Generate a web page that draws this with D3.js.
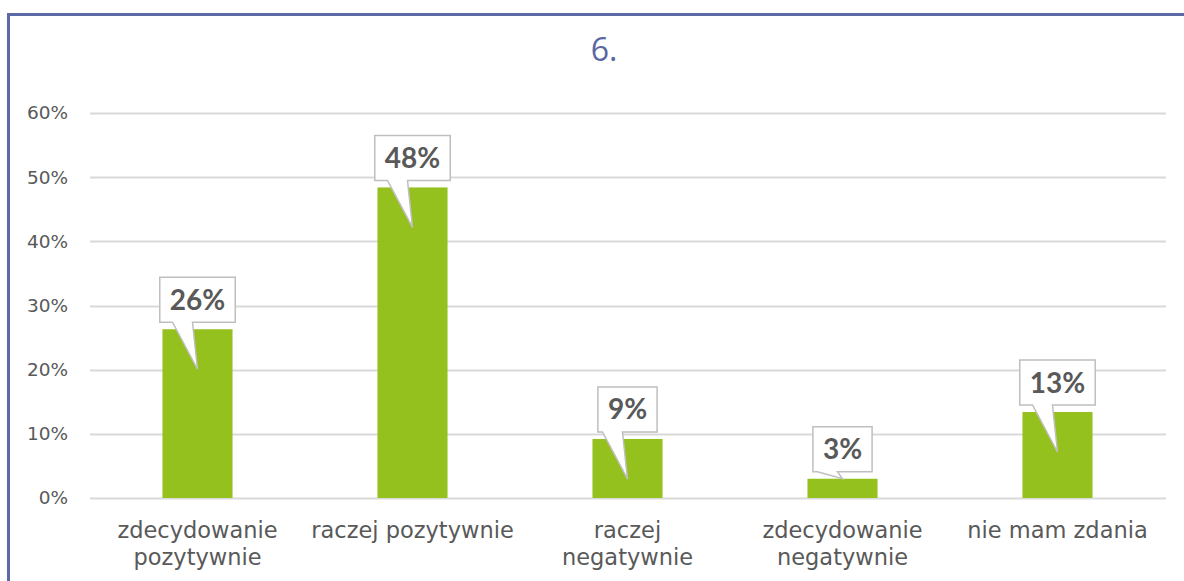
<!DOCTYPE html>
<html>
<head>
<meta charset="utf-8">
<script src="https://cdn.jsdelivr.net/npm/d3@7"></script>
<style>
  body { margin: 0; background: #fff; }
  svg { display: block; }
  text { font-family: "Century Gothic", "DejaVu Sans", sans-serif; }
</style>
</head>
<body>
<div id="chart"></div>
<script>
const width = 1184;
const height = 581;

// data
const categories = [
    "zdecydowanie\npozytywnie",
    "raczej pozytywnie",
    "raczej\nnegatywnie",
    "zdecydowanie\nnegatywnie",
    "nie mam zdania"
];
const values = [0.263, 0.484, 0.092, 0.030, 0.134];
const yTicks = [0, 0.1, 0.2, 0.3, 0.4, 0.5, 0.6];
const title = "6.";

const svg = d3.select("#chart").append("svg")
    .attr("width", width)
    .attr("height", height);

// frame (top + left edge)
svg.append("path")
    .attr("d", "M8.5,581 V14.5 H1184")
    .attr("fill", "none")
    .attr("stroke", "#5d68a6")
    .attr("stroke-width", 3);

svg.append("text")
    .attr("x", 604)
    .attr("y", 61)
    .attr("text-anchor", "middle")
    .attr("fill", "#5a67a3")
    .style("font-family", "'Open Sans', sans-serif")
    .style("font-size", "32px")
    .text(title);

const x = d3.scaleBand()
    .domain(categories)
    .range([90, 1165])
    .paddingInner(0.674)
    .paddingOuter(0.337);

const y = d3.scaleLinear()
    .domain([0, 0.6])
    .range([498, 113]);

// gridlines
svg.append("g")
    .selectAll("line")
    .data(yTicks)
    .join("line")
    .attr("x1", 90)
    .attr("x2", 1166)
    .attr("y1", d => Math.round(y(d)) + 0.5)
    .attr("y2", d => Math.round(y(d)) + 0.5)
    .attr("stroke", "#d9d9d9")
    .attr("stroke-width", 2);

// y axis labels
const yAxis = svg.append("g")
    .attr("transform", "translate(76,0)")
    .call(d3.axisLeft(y).tickValues(yTicks).tickFormat(d3.format(".0%")).tickSize(0).tickPadding(8));
yAxis.select(".domain").remove();
yAxis.selectAll("text")
    .attr("fill", "#595959")
    .style("font-family", "'DejaVu Sans', sans-serif")
    .style("font-size", "18.5px");

// bars
svg.append("g")
    .selectAll("rect")
    .data(values)
    .join("rect")
    .attr("x", (d, i) => x(categories[i]))
    .attr("y", d => y(d))
    .attr("width", x.bandwidth())
    .attr("height", d => y(0) - y(d))
    .attr("fill", "#95c11f");

// category labels
const catG = svg.append("g");
categories.forEach(c => {
    const t = catG.append("text")
        .attr("x", x(c) + x.bandwidth() / 2)
        .attr("y", 538)
        .attr("text-anchor", "middle")
        .attr("fill", "#595959")
        .style("font-size", "22.5px");
    c.split("\n").forEach((line, j) => {
        t.append("tspan")
            .attr("x", x(c) + x.bandwidth() / 2)
            .attr("dy", j === 0 ? 0 : 27)
            .text(line);
    });
});

// callouts
const fmt = d3.format(".0%");
const callG = svg.append("g");
values.forEach((v, i) => {
    const cx = x(categories[i]) + x.bandwidth() / 2;
    const top = y(v);
    const barH = y(0) - top;
    const label = fmt(v);

    const txt = callG.append("text")
        .attr("x", cx)
        .attr("text-anchor", "middle")
        .attr("fill", "#595959")
        .style("font-family", "Lato, sans-serif")
        .style("font-weight", "bold")
        .style("font-size", "28px")
        .text(label);
    const tw = txt.node().getComputedTextLength();

    const boxW = tw + 20;
    const boxH = 45;
    const bottom = top - 7;
    const left = cx - boxW / 2;
    const right = cx + boxW / 2;
    const tipY = barH > 45 ? top + 40 : top;

    callG.insert("path", "text")
        .attr("d", `M${left},${bottom - boxH} H${right} V${bottom} H${cx - 5} L${cx},${tipY} L${cx - 25},${bottom} H${left} Z`)
        .attr("fill", "#fff")
        .attr("stroke", "#bfbfbf")
        .attr("stroke-width", 1.5);

    txt.attr("y", bottom - boxH / 2 + 10);
});
</script>
</body>
</html>
